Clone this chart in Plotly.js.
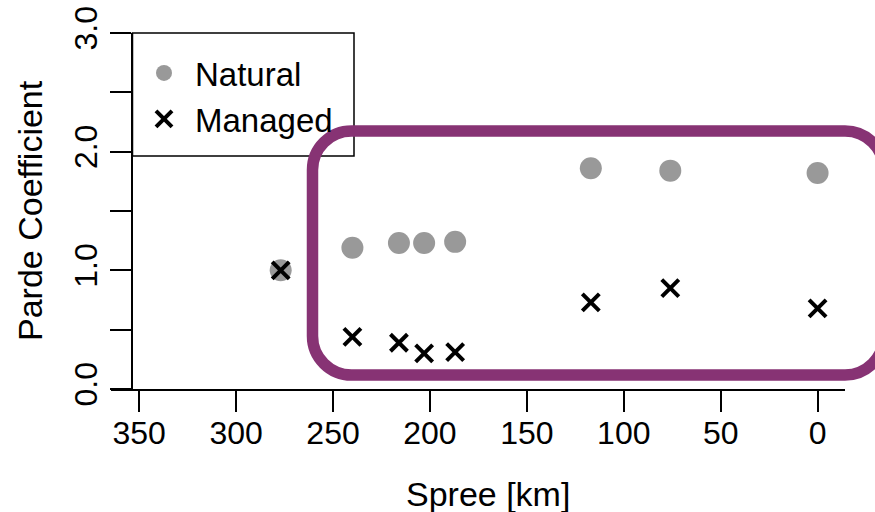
<!DOCTYPE html>
<html>
<head>
<meta charset="utf-8">
<script src="https://cdn.plot.ly/plotly-3.0.1.min.js"></script>
<style>
  html, body { margin: 0; padding: 0; background: #ffffff; }
  #chart { width: 875px; height: 512px; }
</style>
</head>
<body>
<div id="chart"></div>
<script>
// Distance along the Spree (km upstream of the mouth)
const spreeKm = [277, 240, 216, 203, 187, 117, 76, 0];
// Parde coefficients per gauge
const naturalParde = [1.00, 1.19, 1.23, 1.23, 1.24, 1.86, 1.84, 1.82];
const managedParde = [1.00, 0.44, 0.39, 0.30, 0.31, 0.73, 0.85, 0.68];
// Axis ticks
const xTicks = [0, 50, 100, 150, 200, 250, 300, 350];
const yTicks = [0, 0.5, 1, 1.5, 2, 2.5, 3];
const yTickText = ['0.0', '', '1.0', '', '2.0', '', '3.0'];
const seriesNames = ['Natural', 'Managed'];

const FONT = 'Liberation Sans, Arial, Helvetica, sans-serif';

// plot-area pixel frame (used for overlay decorations only)
const W = 875, H = 512;
const L = 111, R = 845, T = 33, B = 389;
const fx = x => (x - L) / (R - L);
const fy = y => (B - y) / (B - T);

// rounded rectangle outline in paper coordinates
function roundedRect(l, t, r, b, rad) {
  const k = 0.5523 * rad;
  const P = (x, y) => fx(x).toFixed(5) + ',' + fy(y).toFixed(5);
  return 'M' + P(l + rad, t) +
    ' L' + P(r - rad, t) +
    ' C' + P(r - rad + k, t) + ' ' + P(r, t + rad - k) + ' ' + P(r, t + rad) +
    ' L' + P(r, b - rad) +
    ' C' + P(r, b - rad + k) + ' ' + P(r - rad + k, b) + ' ' + P(r - rad, b) +
    ' L' + P(l + rad, b) +
    ' C' + P(l + rad - k, b) + ' ' + P(l, b - rad + k) + ' ' + P(l, b - rad) +
    ' L' + P(l, t + rad) +
    ' C' + P(l, t + rad - k) + ' ' + P(l + rad - k, t) + ' ' + P(l + rad, t) + ' Z';
}

const traces = [
  {
    type: 'scatter', mode: 'markers', name: seriesNames[0],
    x: spreeKm, y: naturalParde,
    marker: { symbol: 'circle', size: 22, color: '#999999' },
    cliponaxis: false
  },
  {
    type: 'scatter', mode: 'markers', name: seriesNames[1],
    x: spreeKm, y: managedParde,
    marker: { symbol: 'x-thin', size: 17, color: '#000000',
              line: { width: 4, color: '#000000' } },
    cliponaxis: false
  }
];

const layout = {
  width: W, height: H,
  margin: { l: L, r: W - R, t: T, b: H - B, pad: 0 },
  paper_bgcolor: '#ffffff', plot_bgcolor: '#ffffff',
  font: { family: FONT, color: '#000000' },
  showlegend: true,
  legend: {
    x: fx(133), xanchor: 'left', y: fy(45), yanchor: 'top',
    bgcolor: 'rgba(0,0,0,0)', borderwidth: 0,
    font: { family: FONT, size: 33, color: '#000000' },
    itemwidth: 52, tracegroupgap: 0
  },
  xaxis: {
    range: [364.55, -14.14],
    tickmode: 'array', tickvals: xTicks,
    ticks: 'outside', ticklen: 21, tickwidth: 2, tickcolor: '#000000',
    showline: true, linewidth: 2, linecolor: '#000000',
    showgrid: false, zeroline: false,
    tickfont: { family: FONT, size: 32, color: '#000000' },
    ticklabelstandoff: -6,
    fixedrange: true
  },
  yaxis: {
    range: [0, 3],
    anchor: 'free', position: fx(132),
    tickmode: 'array', tickvals: yTicks, ticktext: yTickText,
    tickangle: -90,
    ticks: 'outside', ticklen: 21, tickwidth: 2, tickcolor: '#000000',
    showline: true, linewidth: 2, linecolor: '#000000',
    showgrid: false, zeroline: false,
    tickfont: { family: FONT, size: 32, color: '#000000' },
    fixedrange: true
  },
  annotations: [
    {
      text: 'Spree [km]', xref: 'paper', yref: 'paper',
      x: fx(488), y: fy(494), xanchor: 'center', yanchor: 'middle',
      showarrow: false, font: { family: FONT, size: 34, color: '#000000' }
    },
    {
      text: 'Parde Coefficient', xref: 'paper', yref: 'paper',
      x: fx(30), y: fy(211), xanchor: 'center', yanchor: 'middle',
      textangle: -90,
      showarrow: false, font: { family: FONT, size: 34, color: '#000000' }
    }
  ],
  shapes: [
    // legend frame
    {
      type: 'rect', xref: 'paper', yref: 'paper', layer: 'above',
      x0: fx(132.5), x1: fx(354), y0: fy(156), y1: fy(33),
      fillcolor: 'rgba(255,255,255,0)', line: { color: '#000000', width: 1.5 }
    },
    // highlighted group of gauges
    {
      type: 'path', xref: 'paper', yref: 'paper', layer: 'above',
      path: roundedRect(312.5, 131, 884, 375, 39),
      fillcolor: 'rgba(0,0,0,0)', line: { color: '#873374', width: 11.5 }
    }
  ]
};

Plotly.newPlot('chart', traces, layout, { staticPlot: true, displayModeBar: false });
</script>
</body>
</html>
